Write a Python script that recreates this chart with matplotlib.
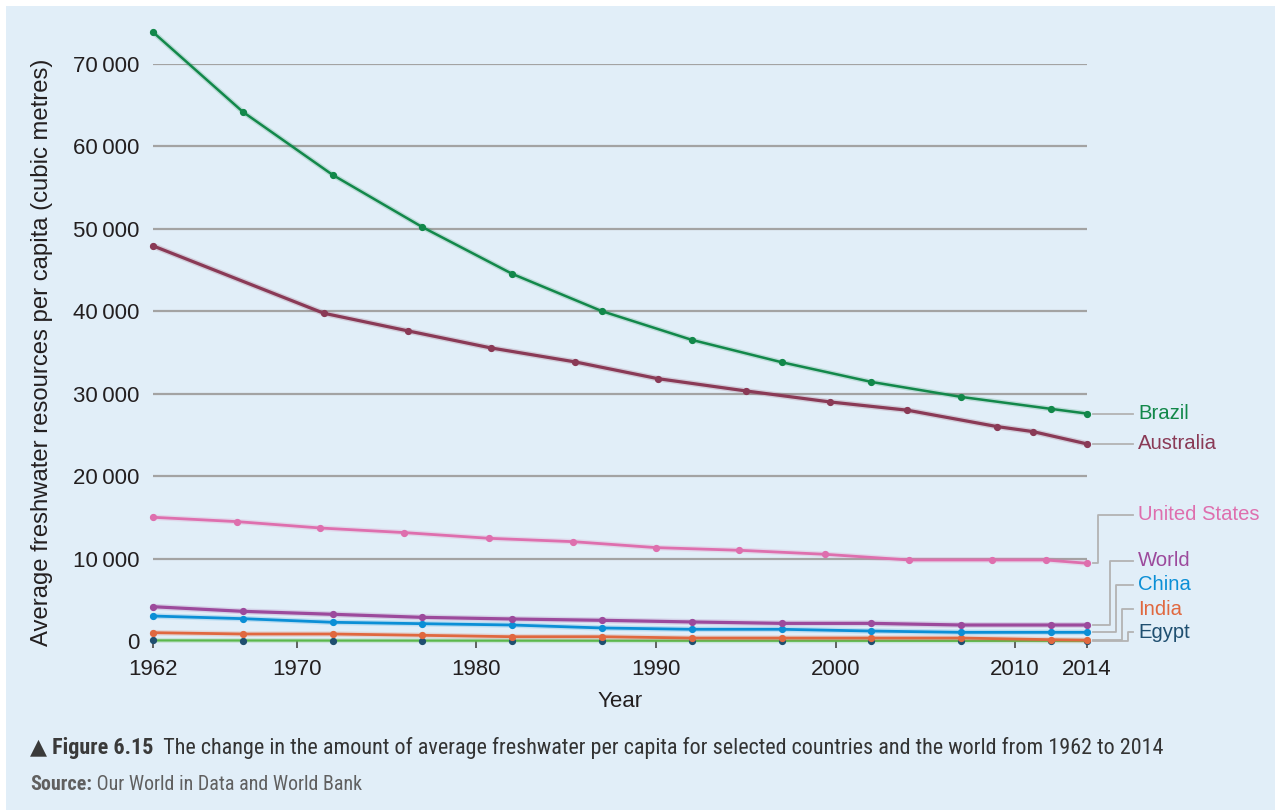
import matplotlib
matplotlib.use("Agg")
import matplotlib.pyplot as plt
import matplotlib.patheffects as pe
from matplotlib import font_manager
from matplotlib.patches import Rectangle

# ---- data (cubic metres of renewable freshwater per person) ----
brazil_years = [1962, 1967, 1972, 1977, 1982, 1987, 1992, 1997, 2002, 2007, 2012, 2014]
brazil = [73870, 64200, 56550, 50210, 44540, 40010, 36530, 33820, 31430, 29610, 28160, 27590]

australia_years = [1962, 1971.5, 1976.2, 1980.8, 1985.5, 1990.1, 1995, 1999.7, 2004, 2009, 2011, 2014]
australia = [47940, 39770, 37620, 35560, 33860, 31830, 30340, 29000, 28000, 26010, 25400, 23910]

us_years = [1962, 1966.7, 1971.3, 1976, 1980.7, 1985.4, 1990, 1994.6, 1999.4, 2004.1, 2008.7, 2011.7, 2014]
united_states = [15010, 14480, 13710, 13150, 12460, 12050, 11330, 11010, 10520, 9830, 9830, 9830, 9430]

years = [1962, 1967, 1972, 1977, 1982, 1987, 1992, 1997, 2002, 2007, 2012, 2014]
world = [4160, 3600, 3240, 2870, 2670, 2510, 2310, 2140, 2140, 1940, 1940, 1940]
china = [3030, 2710, 2270, 2100, 1940, 1580, 1420, 1420, 1210, 1050, 1050, 1050]
india = [1010, 850, 850, 690, 520, 520, 360, 360, 360, 360, 160, 100]
egypt = [70, 60, 50, 45, 40, 35, 30, 30, 25, 20, 20, 20]

y_ticks = [0, 10000, 20000, 30000, 40000, 50000, 60000, 70000]
x_ticks = [1962, 1970, 1980, 1990, 2000, 2010, 2014]

# ---- fonts ----
available = {f.name for f in font_manager.fontManager.ttflist}
main_font = ["Liberation Sans", "DejaVu Sans"]
narrow = next((n for n in ["Roboto Condensed", "Liberation Sans Narrow"] if n in available),
              "Liberation Sans")
caption_font = [narrow, "DejaVu Sans"]
plt.rcParams["font.family"] = main_font

BG = "#e1eef8"
TEXT = "#231f20"
GRID = "#a3a3a3"
LEADER = "#b3b3b3"

W, H = 1275, 810
fig = plt.figure(figsize=(W / 100, H / 100), dpi=100, facecolor="white")
fig.patches.append(Rectangle((6 / W, 0), 1, (H - 6) / H, transform=fig.transFigure,
                             facecolor=BG, edgecolor="none", zorder=-10))

# axes box: 1962..2014 spans x 153..1087 px, 0..70000 spans y 641..64 px
ax = fig.add_axes([153 / W, (H - 641) / H, (1087 - 153) / W, (641 - 64) / H])
ax.set_facecolor("none")
ax.set_xlim(1962, 2014)
ax.set_ylim(0, 70000)
for s in ax.spines.values():
    s.set_visible(False)

ax.set_yticks(y_ticks)
ax.set_yticklabels(["0" if v == 0 else f"{v // 1000}\u2009000" for v in y_ticks])
ax.tick_params(axis="y", length=0, pad=10, labelsize=16, labelcolor=TEXT)
ax.yaxis.grid(True, color=GRID, linewidth=1.6, zorder=0)
ax.set_axisbelow(True)

ax.set_xticks(x_ticks)
ax.set_xticklabels([str(v) for v in x_ticks])
ax.tick_params(axis="x", direction="out", length=5, width=1.3, color="#555555",
               pad=8, labelsize=16, labelcolor=TEXT)

ax.set_xlabel("Year", fontsize=16, color=TEXT, labelpad=8)
ax.set_ylabel("Average freshwater resources per capita (cubic metres)",
              fontsize=17.2, color=TEXT)
ax.yaxis.set_label_coords(-(153 - 53) / (1087 - 153), 0.5)


def draw(xs, ys, color, lw, mcolor=None, ms=4.2, z=3):
    halo = [pe.Stroke(linewidth=lw + 2.0, foreground=color, alpha=0.18), pe.Normal()]
    ax.plot(xs, ys, color=color, linewidth=lw, solid_capstyle="round",
            clip_on=False, zorder=z, path_effects=halo)
    ax.plot(xs, ys, linestyle="none", marker="o", markersize=ms,
            color=mcolor or color, clip_on=False, zorder=z + 0.5)


draw(years, egypt, "#5bb84c", 1.6, mcolor="#1f4f70", z=3)
draw(years, india, "#e0683f", 2.0, z=4)
draw(years, china, "#0b8fd6", 2.0, z=5)
draw(years, world, "#9c4a9c", 2.3, z=6)
draw(us_years, united_states, "#de6fae", 2.0, z=7)
draw(australia_years, australia, "#8a3a56", 2.3, z=8)
draw(brazil_years, brazil, "#12884a", 1.8, z=9)

# ---- end labels with elbow leader lines ----
# (series end value, elbow x, label y, label text, colour)
x_start, x_label_line, x_text = 2014.35, 2016.55, 2016.85
labels = [
    (brazil[-1], None, brazil[-1], "Brazil", "#12884a"),
    (australia[-1], None, australia[-1], "Australia", "#8a3a56"),
    (united_states[-1], 2014.62, 15290, "United States", "#de6fae"),
    (world[-1], 2015.29, 9710, "World", "#9c4a9c"),
    (china[-1], 2015.62, 6800, "China", "#0b8fd6"),
    (india[-1], 2015.95, 3880, "India", "#e0683f"),
    (egypt[-1], 2016.29, 1090, "Egypt", "#1f4f70"),
]
for y_end, x_elbow, y_lab, name, col in labels:
    if x_elbow is None:
        xs, ys = [x_start, x_label_line], [y_end, y_end]
    else:
        xs = [x_start, x_elbow, x_elbow, x_label_line]
        ys = [y_end, y_end, y_lab, y_lab]
    ax.plot(xs, ys, color=LEADER, linewidth=1.3, clip_on=False, zorder=2)
    ax.text(x_text, y_lab, name, color=col, fontsize=14.6, va="center", ha="left",
            clip_on=False)

# ---- caption and source ----
renderer = fig.canvas.get_renderer()


def run_of_text(x_px, y_px, parts, size):
    x = x_px
    for txt, weight, col in parts:
        t = fig.text(x / W, 1 - y_px / H, txt, fontsize=size, fontweight=weight,
                     color=col, family=caption_font, va="baseline", ha="left")
        bb = t.get_window_extent(renderer=renderer)
        x = bb.x1


run_of_text(30, 754, [("\u25b2 Figure 6.15", "bold", "#3a3a3a"),
                      ("  The change in the amount of average freshwater per capita for "
                       "selected countries and the world from 1962 to 2014", "normal", "#333333")],
            15.9)
run_of_text(30, 790, [("Source:", "bold", "#606060"),
                      (" Our World in Data and World Bank", "normal", "#606060")], 14.4)

fig.savefig("out.png", dpi=100, facecolor=fig.get_facecolor())
